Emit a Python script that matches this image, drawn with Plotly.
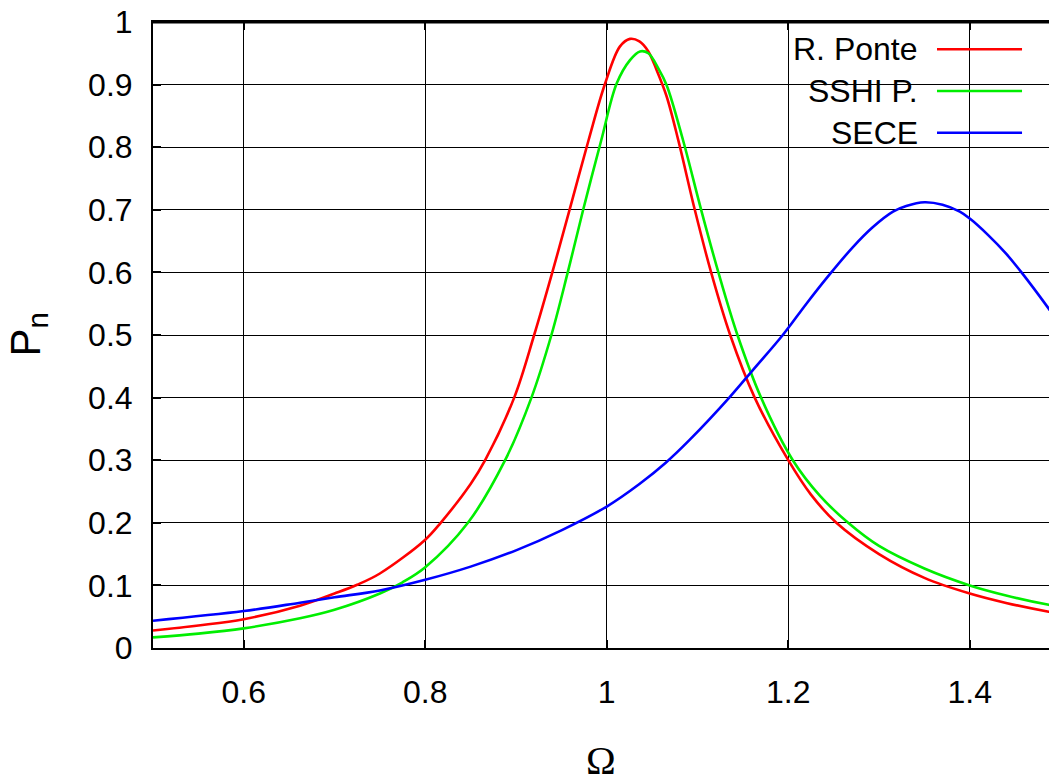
import plotly.graph_objects as go

# ---- data ----
x_ponte = [0.5, 0.55, 0.6, 0.662, 0.7, 0.725, 0.75, 0.8, 0.817, 0.85, 0.866, 0.898, 0.92, 0.94, 0.959,
           0.98, 0.998, 1.0146, 1.0256, 1.036, 1.0458, 1.055, 1.066, 1.079, 1.097, 1.115, 1.136,
           1.163, 1.2, 1.225, 1.253, 1.3, 1.35, 1.4, 1.44, 1.487, 1.5]
y_ponte = [0.028, 0.036, 0.046, 0.0676, 0.087, 0.101, 0.119, 0.173, 0.2, 0.262, 0.3, 0.4, 0.5, 0.6, 0.7,
           0.8115, 0.901, 0.961, 0.973, 0.969, 0.953, 0.923, 0.881, 0.81, 0.7, 0.6, 0.5,
           0.4, 0.3, 0.245, 0.2, 0.15, 0.112, 0.087, 0.072, 0.058, 0.055]

x_sshi = [0.5, 0.55, 0.6, 0.662, 0.7, 0.75, 0.775, 0.8, 0.847, 0.888, 0.917, 0.939, 0.957, 0.974,
          0.994, 1.011, 1.0256, 1.0366, 1.0458, 1.0568, 1.066, 1.084, 1.104, 1.123, 1.144,
          1.17, 1.205, 1.235, 1.266, 1.3, 1.35, 1.4, 1.44, 1.487, 1.5]
y_sshi = [0.017, 0.023, 0.0314, 0.0474, 0.061, 0.087, 0.105, 0.129, 0.2, 0.3, 0.4, 0.5, 0.6, 0.7,
          0.8115, 0.902, 0.939, 0.953, 0.95, 0.926, 0.899, 0.8115, 0.7, 0.6, 0.5,
          0.4, 0.3, 0.243, 0.2, 0.163, 0.127, 0.1, 0.084, 0.069, 0.066]

x_sece = [0.5, 0.6, 0.662, 0.7, 0.75, 0.8, 0.85, 0.9, 0.95, 1.0, 1.036, 1.065, 1.091, 1.135,
          1.161, 1.194, 1.22, 1.244, 1.271, 1.293, 1.3154, 1.33, 1.35, 1.37, 1.389, 1.4, 1.42,
          1.44, 1.457, 1.487, 1.5]
y_sece = [0.0436, 0.059, 0.0724, 0.081, 0.092, 0.109, 0.13, 0.156, 0.188, 0.226, 0.262, 0.296,
          0.332, 0.4, 0.444, 0.5, 0.55, 0.594, 0.64, 0.672, 0.697, 0.706, 0.712, 0.708, 0.697,
          0.686, 0.66, 0.63, 0.6, 0.542, 0.515]

series_names = ["R. Ponte", "SSHI P.", "SECE"]
series_colors = ["#ff0000", "#00ee00", "#0000ff"]

x_tickvals = [0.6, 0.8, 1.0, 1.2, 1.4]
x_ticktext = ["0.6", "0.8", "1", "1.2", "1.4"]
y_tickvals = [0, 0.1, 0.2, 0.3, 0.4, 0.5, 0.6, 0.7, 0.8, 0.9, 1.0]
y_ticktext = ["0", "0.1", "0.2", "0.3", "0.4", "0.5", "0.6", "0.7", "0.8", "0.9", "1"]

FONT = "Liberation Sans, Arial, sans-serif"

fig = go.Figure()
for xs, ys, name, col in zip([x_ponte, x_sshi, x_sece], [y_ponte, y_sshi, y_sece],
                             series_names, series_colors):
    fig.add_trace(go.Scatter(x=xs, y=ys, mode="lines", name=name,
                             line=dict(color=col, width=2.6, shape="spline", smoothing=1.0),
                             showlegend=False, hoverinfo="skip"))

# custom gnuplot-style key: white box, right-aligned text, sample line to the right
fig.add_shape(type="rect", xref="paper", yref="paper", x0=0.6786, x1=0.9911, y0=0.7907, y1=0.99,
              fillcolor="white", line=dict(width=0), layer="between")
key_y = [0.9564, 0.8898, 0.8232]
for name, col, ky in zip(series_names, series_colors, key_y):
    fig.add_annotation(xref="paper", yref="paper", x=0.8565, y=ky, text=name, showarrow=False,
                       xanchor="right", yanchor="middle", font=dict(family=FONT, size=32, color="black"))
    fig.add_shape(type="line", xref="paper", yref="paper", x0=0.875, x1=0.9699, y0=ky, y1=ky,
                  line=dict(color=col, width=2.6))

# top border of the frame (pixel-sized band anchored at the top of the plot area)
fig.add_shape(type="rect", xref="paper", yref="paper", ysizemode="pixel", yanchor=1,
              x0=0, x1=1, y0=-1.5, y1=1.5,
              fillcolor="black", line=dict(width=0), layer="above")

# axis titles
fig.add_annotation(xref="paper", yref="paper", x=0.5, y=-0.140, text="Ω", showarrow=False,
                   xanchor="center", yanchor="top",
                   font=dict(family="Liberation Serif, Times New Roman, serif", size=40, color="black"))
fig.add_annotation(xref="paper", yref="paper", x=-0.140, y=0.5, text="P<sub>n</sub>", showarrow=False,
                   xanchor="center", yanchor="middle", textangle=-90,
                   font=dict(family=FONT, size=42, color="black"))

fig.update_layout(
    template="none",
    width=1049, height=782,
    margin=dict(l=153, r=0, t=22, b=134, pad=0),
    paper_bgcolor="white", plot_bgcolor="white",
    font=dict(family=FONT, size=32, color="black"),
    hovermode=False,
    xaxis=dict(range=[0.5, 1.4873], tickvals=x_tickvals, ticktext=x_ticktext, automargin=False,
               showgrid=True, gridcolor="black", gridwidth=1, zeroline=False,
               showline=True, linecolor="black", linewidth=2, mirror="ticks",
               ticks="inside", ticklen=8, tickwidth=1.5, tickcolor="black",
               ticklabelstandoff=15, tickfont=dict(family=FONT, size=32, color="black")),
    yaxis=dict(range=[0, 1], tickvals=y_tickvals, ticktext=y_ticktext, automargin=False,
               showgrid=True, gridcolor="black", gridwidth=1, zeroline=False,
               showline=True, linecolor="black", linewidth=2, mirror=False,
               ticks="inside", ticklen=8, tickwidth=1.5, tickcolor="black",
               ticklabelstandoff=12, tickfont=dict(family=FONT, size=32, color="black")),
)

fig.write_html("out.html", config={"displayModeBar": False},
               post_script="document.body.style.margin='0';document.body.style.overflow='hidden';")
